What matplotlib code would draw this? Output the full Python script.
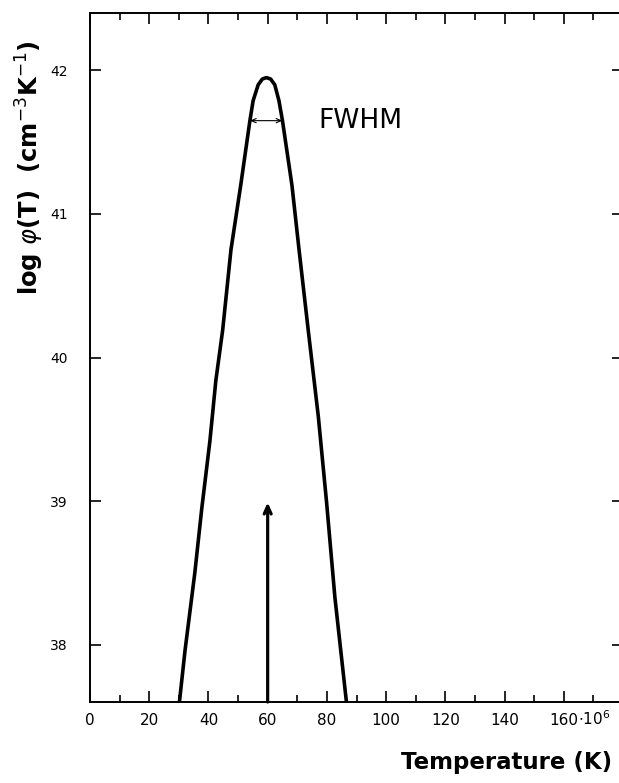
import numpy as np
import matplotlib
matplotlib.use('Agg')
from matplotlib import pyplot as plt
from matplotlib.ticker import MultipleLocator

# curve: temperature (10^6 K) vs log phi(T)
temp = [30.2, 32.1, 35.4, 37.7, 40.5, 42.5, 44.8, 47.6, 50.9, 54.0, 55.1, 56.8, 58.2, 59.6,
        61.0, 62.4, 63.8, 65.0, 68.2, 70.6, 73.7, 77.1, 79.9, 82.7, 86.6]
log_phi = [37.60, 37.96, 38.50, 38.94, 39.42, 39.84, 40.19, 40.75, 41.20, 41.65, 41.79, 41.90, 41.94, 41.95,
           41.94, 41.90, 41.79, 41.65, 41.20, 40.75, 40.19, 39.59, 38.99, 38.33, 37.60]

fwhm_lo, fwhm_hi, fwhm_level = 54.0, 65.0, 41.65
arrow_t, arrow_top = 60.0, 38.99

x_ticks = [0, 20, 40, 60, 80, 100, 120, 140, 160]
x_ticklabels = ['0', '20', '40', '60', '80', '100', '120', '140', '160']
y_ticks = [38, 39, 40, 41, 42]

fig = plt.figure(figsize=(6.19, 7.83), dpi=100)
ax = fig.add_axes([90 / 619, 81 / 783, 533 / 619, 689 / 783])

ax.plot(temp, log_phi, color='black', lw=2.6, solid_joinstyle='round')

# FWHM marker
ax.annotate('', xy=(fwhm_lo, fwhm_level), xytext=(fwhm_hi, fwhm_level),
            arrowprops=dict(arrowstyle='<->, head_length=0.35, head_width=0.15',
                            lw=0.8, color='black', shrinkA=0, shrinkB=0))
ax.text(77.0, fwhm_level, 'FWHM', fontsize=19, ha='left', va='center')

# vertical arrow at peak temperature
ax.annotate('', xy=(arrow_t, arrow_top), xytext=(arrow_t, 37.6),
            arrowprops=dict(arrowstyle='->, head_length=0.55, head_width=0.25',
                            lw=2.3, color='black', shrinkA=0, shrinkB=0))

ax.set_xlim(0, 180)
ax.set_ylim(37.6, 42.4)
ax.set_xticks(x_ticks)
ax.set_xticklabels(x_ticklabels)
ax.xaxis.set_minor_locator(MultipleLocator(10))
ax.set_yticks(y_ticks)

ax.tick_params(axis='both', which='both', direction='in', top=True, right=True, width=1.2)
ax.tick_params(axis='x', which='major', length=8, labelsize=11, pad=8)
ax.tick_params(axis='x', which='minor', length=5)
ax.tick_params(axis='y', which='major', length=8, labelsize=10, pad=16)
for s in ax.spines.values():
    s.set_linewidth(1.4)

ax.annotate(r'$\cdot$10$^6$', xy=(160, 0), xycoords=('data', 'axes fraction'),
            xytext=(10, -16.4), textcoords='offset points', ha='left', va='baseline', fontsize=11)

fig.text(30 / 619, 1 - 168 / 783, r'log $\varphi$(T)  (cm$^{-3}$K$^{-1}$)', rotation=90,
         ha='center', va='center', fontsize=17.5, fontweight='bold')
fig.text(612 / 619, 1 - 762 / 783, 'Temperature (K)', ha='right', va='center',
         fontsize=16.5, fontweight='bold')

fig.savefig('out.png', dpi=100)
